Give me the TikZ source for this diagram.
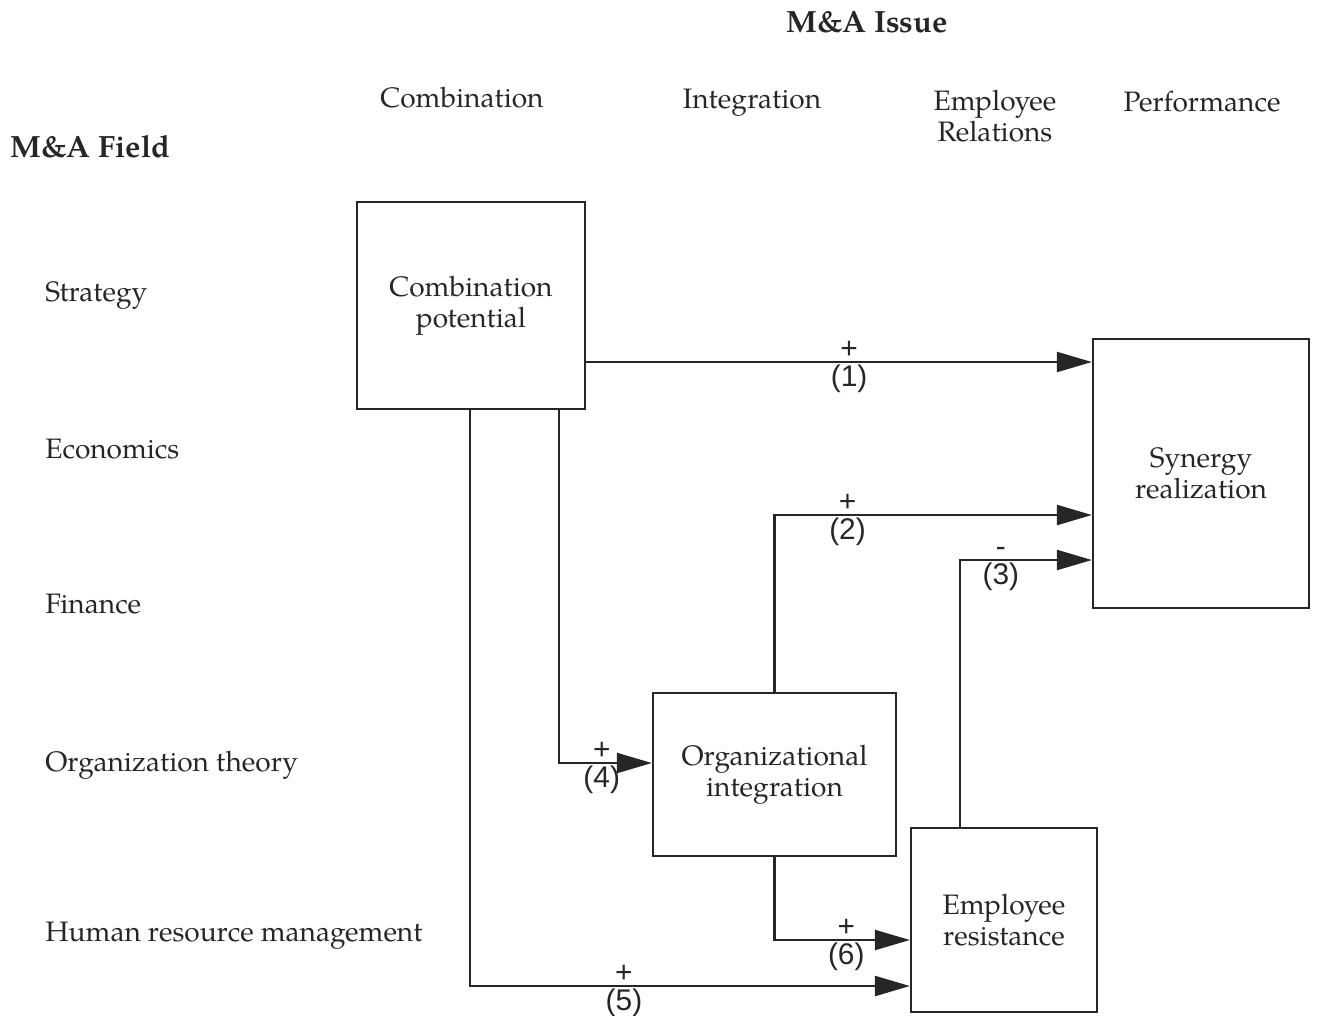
\documentclass[tikz,border=0pt]{standalone}
\usepackage{fontspec}
\setmainfont{TeX Gyre Pagella}
\newfontfamily\helv{Liberation Sans}
\usetikzlibrary{arrows.meta}
\tikzset{
  lab/.style={font=\fontsize{16}{17.6}\selectfont, inner sep=0pt},
  head/.style={font=\fontsize{17.5}{19}\selectfont\bfseries, inner sep=0pt},
  box/.style={draw, line width=1.3pt, align=center, inner sep=0pt, font=\fontsize{16}{17.6}\selectfont},
  sign/.style={font=\helv\fontsize{17}{17}\selectfont, inner sep=1.2pt},
  link/.style={->, line width=1.3pt}
}
\begin{document}
\begin{tikzpicture}[x=.02cm, y=-.02cm, color=black!85,
    >={Triangle[length=.7cm, width=.4cm]}]
  \useasboundingbox (0,0) rectangle (1318,1015);
  % titles
  \node[head] (issue) at (867,22) {M\&A Issue};
  \node[head, anchor=base west] (field) at (10,157) {M\&A Field};
  % column heads
  \node[lab, anchor=base] (hcomb) at (462,107) {Combination};
  \node[lab, anchor=base] (hint) at (752,108) {Integration};
  \node[lab, align=center] (hemp) at (995,116) {Employee\\Relations};
  \node[lab, anchor=base] (hperf) at (1202,111) {Performance};
  % row labels
  \foreach \t/\y [count=\i] in {Strategy/301, Economics/458, Finance/613,
      Organization theory/771, Human resource management/941}
    {\node[lab, anchor=base west] (row\i) at (45,\y) {\t};}
  % boxes
  \node[box, minimum width=4.56cm, minimum height=4.14cm] (comb) at (471,305.5) {Combination\\potential};
  \node[box, minimum width=4.32cm, minimum height=5.38cm] (syn) at (1201,473.5) {Synergy\\realization};
  \node[box, minimum width=4.86cm, minimum height=3.26cm] (org) at (774.5,774.5) {Organizational\\integration};
  \node[box, minimum width=3.72cm, minimum height=3.68cm] (emp) at (1004,920) {Employee\\resistance};
  % links
  \draw[link] (comb.east |- 0,362) -- node[sign, above, pos=.52] (p1) {+}
    node[sign, below, pos=.52] (n1) {(1)} (syn.west |- 0,362);
  \draw[link] (org.north) |- node[sign, above, pos=.615] (p2) {+}
    node[sign, below, pos=.615] (n2) {(2)} (syn.west |- 0,515);
  \draw[link] (emp.north -| 960,0) |- node[sign, above, pos=.655] (p3) {-}
    node[sign, below, pos=.655] (n3) {(3)} (syn.west |- 0,560);
  \draw[link] (comb.south -| 559,0) |- node[sign, above, pos=.73] (p4) {+}
    node[sign, below, pos=.73] (n4) {(4)} (org.west |- 0,763);
  \draw[link] (comb.south -| 470,0) |- node[sign, above, pos=.675] (p5) {+}
    node[sign, below, pos=.675] (n5) {(5)} (emp.west |- 0,986);
  \draw[link] (org.south) |- node[sign, above, pos=.765] (p6) {+}
    node[sign, below, pos=.765] (n6) {(6)} (emp.west |- 0,940);
\end{tikzpicture}
\end{document}
